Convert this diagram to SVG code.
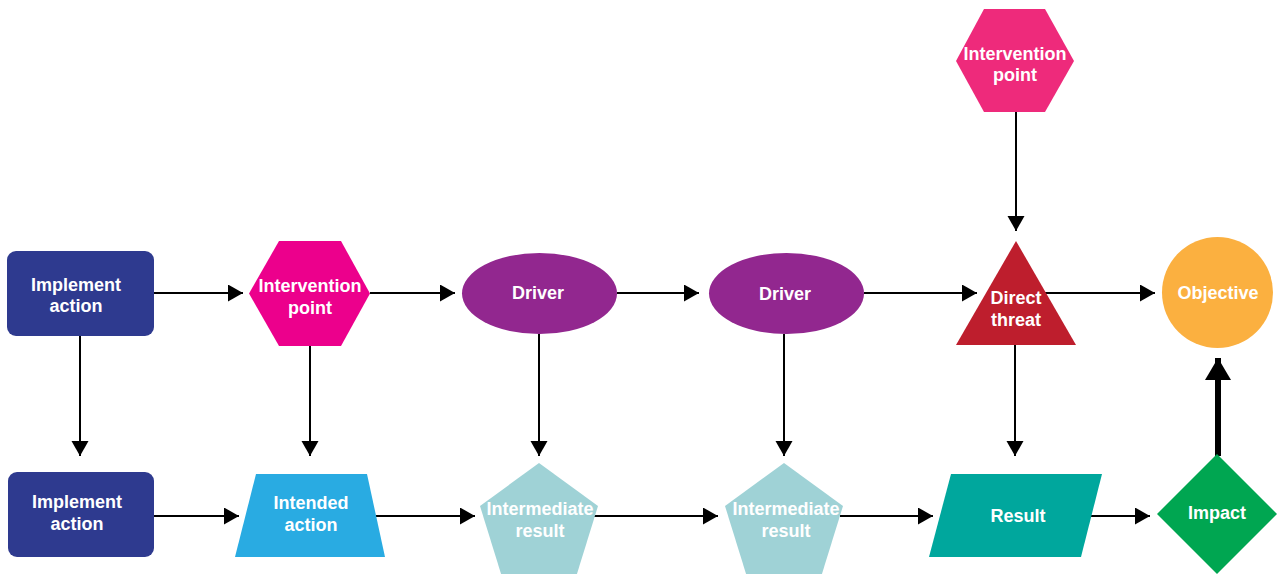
<svg xmlns="http://www.w3.org/2000/svg" width="1277" height="574" viewBox="0 0 1277 574">
<style>
text{font-family:"Liberation Sans",Arial,sans-serif;font-weight:bold;font-size:18px;fill:#fff;text-anchor:middle}
.c{stroke:#000;stroke-width:2;fill:none;marker-end:url(#a)}
.t{stroke:#000;stroke-width:6;fill:none;marker-end:url(#b)}
</style>
<defs>
<marker id="a" markerUnits="userSpaceOnUse" markerWidth="16" markerHeight="18" refX="15" refY="8.5" orient="auto"><path d="M0,0 L15,8.5 L0,17 Z" fill="#000"/></marker>
<marker id="b" markerUnits="userSpaceOnUse" markerWidth="24" markerHeight="28" refX="22" refY="13" orient="auto"><path d="M0,0 L22,13 L0,26 Z" fill="#000"/></marker>
</defs>
<rect width="1277" height="574" fill="#fff"/>
<g id="connectors">
<line class="c" x1="154" y1="293" x2="243" y2="293"/>
<line class="c" x1="370" y1="293" x2="455" y2="293"/>
<line class="c" x1="617" y1="293" x2="699" y2="293"/>
<line class="c" x1="864" y1="293" x2="977" y2="293"/>
<line class="c" x1="1045" y1="293" x2="1155" y2="293"/>
<line class="c" x1="154" y1="516" x2="239" y2="516"/>
<line class="c" x1="376" y1="516" x2="475" y2="516"/>
<line class="c" x1="594" y1="516" x2="718" y2="516"/>
<line class="c" x1="840" y1="516" x2="933" y2="516"/>
<line class="c" x1="1091" y1="516" x2="1150" y2="516"/>
<line class="c" x1="80" y1="336" x2="80" y2="456"/>
<line class="c" x1="310" y1="346" x2="310" y2="456"/>
<line class="c" x1="539" y1="334" x2="539" y2="456"/>
<line class="c" x1="784" y1="334" x2="784" y2="456"/>
<line class="c" x1="1016" y1="112" x2="1016" y2="231"/>
<line class="c" x1="1015" y1="345" x2="1015" y2="456"/>
<line class="t" x1="1218" y1="456" x2="1218" y2="358"/>
</g>
<g id="implement1"><rect x="7" y="251" width="147" height="85" rx="9" fill="#2E3A8F"/><text x="76" y="291">Implement</text><text x="76" y="312">action</text></g>
<g id="implement2"><rect x="8" y="472" width="146" height="85" rx="9" fill="#2E3A8F"/><text x="77" y="508">Implement</text><text x="77" y="530">action</text></g>
<g id="intervention1"><polygon points="249,293.5 279,241 341,241 370,293.5 341,346 279,346" fill="#EC008C"/><text x="310" y="292">Intervention</text><text x="310" y="314">point</text></g>
<g id="intended"><polygon points="256,474 367,474 385,557 235,557" fill="#29ABE2"/><text x="311" y="509">Intended</text><text x="311" y="531">action</text></g>
<g id="driver1"><ellipse cx="539.5" cy="293.5" rx="77.5" ry="40.5" fill="#92278F"/><text x="538" y="299">Driver</text></g>
<g id="driver2"><ellipse cx="786.5" cy="293.5" rx="77.5" ry="40.5" fill="#92278F"/><text x="785" y="300">Driver</text></g>
<g id="intermediate1"><polygon points="539,463 598,506 576,577 502,577 480,506" fill="#9FD2D6"/><text x="540" y="515">Intermediate</text><text x="540" y="537">result</text></g>
<g id="intermediate2"><polygon points="784,463 843,506 821,577 747,577 725,506" fill="#9FD2D6"/><text x="786" y="515">Intermediate</text><text x="786" y="537">result</text></g>
<g id="intervention2"><polygon points="956,61 984,9 1045,9 1074,61 1045,112 984,112" fill="#EE2A7B"/><text x="1015" y="60">Intervention</text><text x="1015" y="81">point</text></g>
<g id="threat"><polygon points="1016,241 1076,345 956,345" fill="#BE1E2D"/><text x="1016" y="304">Direct</text><text x="1016" y="326">threat</text></g>
<g id="objective"><circle cx="1217.5" cy="292.5" r="55.5" fill="#FBB040"/><text x="1218" y="299">Objective</text></g>
<g id="result"><polygon points="951,474 1102,474 1081,557 929,557" fill="#00A79D"/><text x="1018" y="522">Result</text></g>
<g id="impact"><polygon points="1217,454 1277,514 1217,574 1157,514" fill="#00A651"/><text x="1217" y="519">Impact</text></g>
</svg>
